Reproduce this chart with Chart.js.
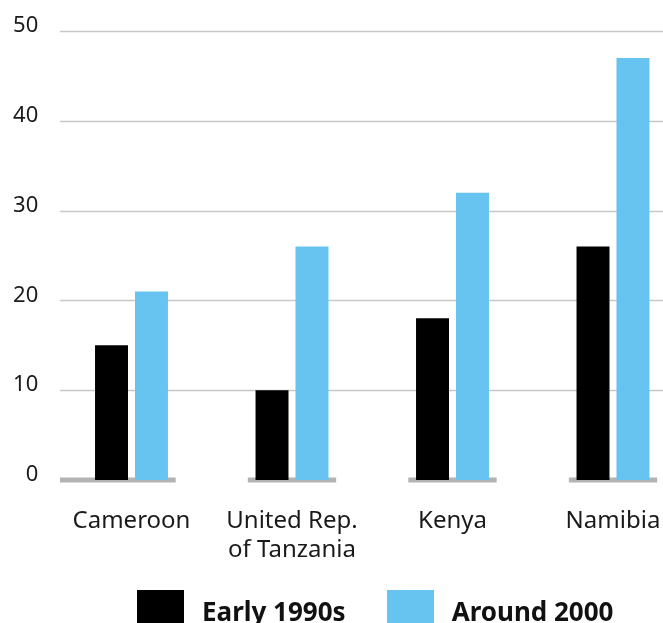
<!DOCTYPE html>
<html>
<head>
<meta charset="utf-8">
<script src="https://cdn.jsdelivr.net/npm/chart.js@4/dist/chart.umd.min.js"></script>
<style>
  html, body { margin: 0; padding: 0; background: #fff; overflow: hidden; }
  #frame { position: relative; width: 663px; height: 623px; overflow: hidden; }
  #wrap { position: absolute; left: 0; top: 0; width: 700px; height: 623px; }
  #legend { position: absolute; left: 137px; top: 590px; display: flex; font-family: 'Noto Sans', sans-serif; }
  .item { display: flex; align-items: flex-start; margin-right: 41px; }
  .swatch { width: 47px; height: 47px; margin-right: 18px; }
  .label { font-size: 26px; font-weight: bold; line-height: 1; margin-top: 8px; color: #111; }
</style>
</head>
<body>
<div id="frame">
  <div id="wrap"><canvas id="chart"></canvas></div>
  <div id="legend"></div>
</div>
<script>
// values
const categories = ['Cameroon', ['United Rep.', 'of Tanzania'], 'Kenya', 'Namibia'];
const early1990s = [15, 10, 18, 26];
const around2000 = [21, 26, 32, 47];
const seriesLabels = ['Early 1990s', 'Around 2000'];
const seriesColors = ['#000000', '#67c3ef'];
const yTicks = [0, 10, 20, 30, 40, 50];

const GRID_START = 60;

// thin grey gridlines (starting a bit right of the plot edge) + thick grey zero segments per category
const backdrop = {
  id: 'backdrop',
  beforeDatasetsDraw(chart) {
    const { ctx, scales: { x, y } } = chart;
    ctx.save();
    ctx.strokeStyle = '#c8c8c8';
    ctx.lineWidth = 1.5;
    yTicks.filter(v => v > 0).forEach(v => {
      const py = Math.round(y.getPixelForValue(v)) + 0.5;
      ctx.beginPath();
      ctx.moveTo(GRID_START, py);
      ctx.lineTo(chart.width, py);
      ctx.stroke();
    });
    const half = (x.right - x.left) / categories.length * 0.275;
    const y0 = y.getPixelForValue(0);
    ctx.strokeStyle = '#b3b3b3';
    ctx.lineWidth = 5;
    categories.forEach((c, i) => {
      const cx = x.getPixelForValue(i);
      ctx.beginPath();
      ctx.moveTo(i === 0 ? GRID_START : cx - half, y0);
      ctx.lineTo(cx + half, y0);
      ctx.stroke();
    });
    ctx.restore();
  }
};

new Chart(document.getElementById('chart'), {
  type: 'bar',
  data: {
    labels: categories,
    datasets: [
      { label: seriesLabels[0], data: early1990s, backgroundColor: seriesColors[0] },
      { label: seriesLabels[1], data: around2000, backgroundColor: seriesColors[1] }
    ]
  },
  options: {
    responsive: true,
    maintainAspectRatio: false,
    animation: false,
    categoryPercentage: 0.498,
    barPercentage: 0.825,
    layout: { padding: { top: 31, right: 6.75, bottom: 0, left: 0 } },
    plugins: { legend: { display: false }, tooltip: { enabled: false } },
    scales: {
      x: {
        grid: { display: false, drawTicks: false },
        border: { display: false },
        ticks: { color: '#1a1a1a', font: { family: 'Noto Sans', size: 24, lineHeight: 1.2 }, padding: 27, maxRotation: 0, autoSkip: false },
        afterFit(scale) { scale.height = 143; }
      },
      y: {
        min: 0,
        max: 50,
        grid: { display: false, drawTicks: false },
        border: { display: false },
        ticks: { stepSize: 10, color: '#1a1a1a', font: { family: 'Noto Sans', size: 22 }, padding: 13, labelOffset: -5 },
        afterFit(scale) { scale.width = 51.25; }
      }
    }
  },
  plugins: [backdrop]
});

// legend as html, built from the series arrays
const legend = document.getElementById('legend');
seriesLabels.forEach((name, i) => {
  const item = document.createElement('div');
  item.className = 'item';
  item.innerHTML = '<div class="swatch" style="background:' + seriesColors[i] + '"></div><div class="label">' + name + '</div>';
  legend.appendChild(item);
});
</script>
</body>
</html>
